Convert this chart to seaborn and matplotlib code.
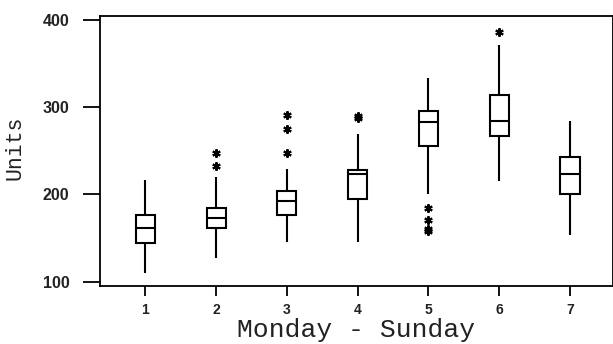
import numpy as np
import pandas as pd
import seaborn as sns
import matplotlib
matplotlib.use("Agg")
import matplotlib.pyplot as plt

# ---- data (five-number summaries + outliers) ----
days = ["1", "2", "3", "4", "5", "6", "7"]
whisker_low = [110, 127, 146, 146, 201, 215, 153]
q1 = [144, 161, 176, 195, 256, 267, 201]
median = [161, 173, 193, 224, 283, 284, 223]
q3 = [177, 185, 204, 228, 296, 314, 243]
whisker_high = [217, 220, 229, 269, 334, 371, 284]
outliers_low = [[], [], [], [], [184, 171, 160, 158], [], []]
outliers_high = [[], [233, 247], [248, 275, 291], [288, 290], [], [386], []]
y_ticks = [100, 200, 300, 400]


def expand(lo_out, wlo, a, m, b, whi, hi_out):
    """Build a sample whose quartiles / whiskers / fliers equal the given summary."""
    lows = sorted(lo_out) + [wlo]
    highs = [whi] + sorted(hi_out)
    k = max(len(lows), len(highs)) + 1
    vals = (lows + [a] * (k - len(lows) + 1) + [m] * k + [b] * k
            + [b] * (k - len(highs)) + highs)
    return vals


rows = []
for i, d in enumerate(days):
    for v in expand(outliers_low[i], whisker_low[i], q1[i], median[i], q3[i],
                    whisker_high[i], outliers_high[i]):
        rows.append((d, v))
df = pd.DataFrame(rows, columns=["day", "units"])

sns.set_style("ticks")
fig = plt.figure(figsize=(6.13, 3.44), dpi=100)
ax = fig.add_axes([100 / 613, 1 - 286 / 344, 512.5 / 613, 270.3 / 344])

sns.boxplot(data=df, x="day", y="units", order=days, width=0.27,
            color="white", saturation=1, linecolor="black", linewidth=1.5,
            showcaps=False, whis=1.5,
            medianprops=dict(color="black", linewidth=1.5),
            flierprops=dict(marker=(6, 2, 0), markersize=6,
                            markeredgecolor="black", markerfacecolor="black",
                            markeredgewidth=1.5),
            ax=ax)

ax.set_ylim(95, 405)
ax.set_xlim(-0.64, 6.6)
ax.set_yticks(y_ticks)
ax.set_yticklabels([str(t) for t in y_ticks])

for s in ax.spines.values():
    s.set_visible(True)
    s.set_linewidth(1.3)
    s.set_color("black")

ax.tick_params(axis="y", length=12, width=1.3, pad=10, color="black")
ax.tick_params(axis="x", length=7, width=1.3, pad=5, color="black")
for lab in ax.get_yticklabels():
    lab.set_fontfamily("Liberation Sans")
    lab.set_fontweight("bold")
    lab.set_fontsize(11.5)
    lab.set_color("#222222")
for lab in ax.get_xticklabels():
    lab.set_fontfamily("Liberation Sans")
    lab.set_fontweight("bold")
    lab.set_fontsize(10)
    lab.set_color("#222222")

ax.set_xlabel("Monday - Sunday", fontfamily="Liberation Mono", fontsize=19,
              color="#222222")
ax.set_ylabel("Units", fontfamily="Liberation Mono", fontsize=15.5,
              color="#222222")
ax.xaxis.set_label_coords(0.5, -0.12)
ax.yaxis.set_label_coords(-0.146, 0.51)

fig.savefig("out.png", dpi=100)
